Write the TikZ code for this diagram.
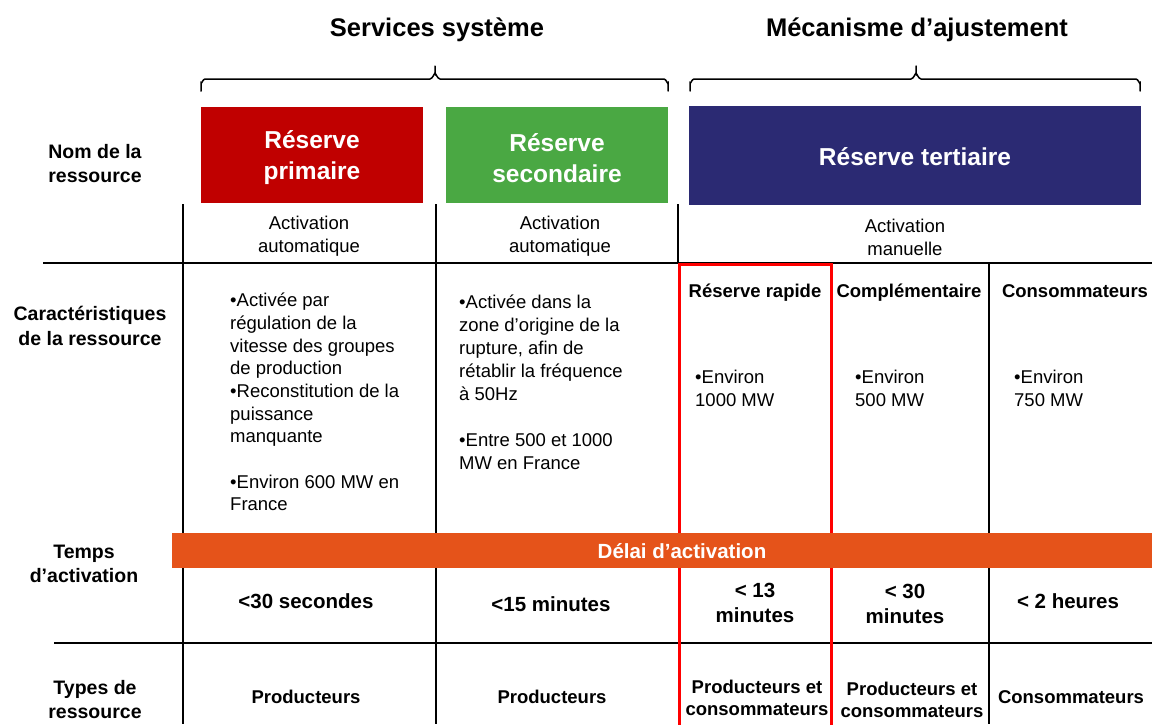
\documentclass[tikz,border=0pt]{standalone}
\usepackage{fontspec}
\setmainfont{Liberation Sans}
\definecolor{cred}{HTML}{C00000}
\definecolor{cgreen}{HTML}{4AA843}
\definecolor{cblue}{HTML}{2B2A73}
\definecolor{corange}{HTML}{E5531A}
\definecolor{cframe}{HTML}{FF0000}
\begin{document}
\begin{tikzpicture}[x=1pt,y=-1pt,
  every node/.style={inner sep=0pt},
  title/.style={font=\fontsize{25.5}{30}\selectfont\bfseries},
  lab/.style={font=\fontsize{19.5}{24.5}\selectfont\bfseries, align=center},
  colbox/.style={inner sep=0pt},
  boxtext/.style={text=white, font=\fontsize{24.5}{31}\selectfont\bfseries, align=center},
  body/.style={font=\fontsize{18.5}{22.65}\selectfont, align=left, anchor=north west},
  cell/.style={font=\fontsize{18.5}{23}\selectfont, align=center},
  bcell/.style={font=\fontsize{18.5}{22.5}\selectfont\bfseries, align=center},
  tcell/.style={font=\fontsize{20.5}{25.5}\selectfont\bfseries, align=center},
  rule/.style={line width=1.6pt, black},
  frame/.style={line width=3pt, cframe},
  brace/.style={line width=1.5pt, black, line cap=round}]
\useasboundingbox (0,0) rectangle (1152,724);

% titles
\node[title] (t1) at (437,29.5) {Services système};
\node[title] (t2) at (917,29.5) {Mécanisme d’ajustement};

% braces
\draw[brace] (201,91) -- (201,83) to[out=-90,in=180] (205,79) -- (430,79) to[out=0,in=90] (435,74) -- (435,66);
\draw[brace] (435,74) to[out=90,in=180] (440,79) -- (664,79) to[out=0,in=-90] (668,83) -- (668,91);
\draw[brace] (690,91) -- (690,83) to[out=-90,in=180] (694,79) -- (911,79) to[out=0,in=90] (916,74) -- (916,66);
\draw[brace] (916,74) to[out=90,in=180] (921,79) -- (1136,79) to[out=0,in=-90] (1140,83) -- (1140,91);

% coloured boxes
\node[colbox, fill=cred, minimum width=222pt, minimum height=96pt] (b1) at (312,155) {};
\node[colbox, fill=cgreen, minimum width=222pt, minimum height=96pt] (b2) at (557,155) {};
\node[colbox, fill=cblue, minimum width=452pt, minimum height=99pt] (b3) at (915,155.5) {};
\node[boxtext] (b1t) at (312,158) {Réserve\\primaire};
\node[boxtext] (b2t) at (557,158) {Réserve\\secondaire};
\node[boxtext] (b3t) at (915,157) {Réserve tertiaire};

% table rules
\coordinate (v1t) at (183,204); \coordinate (v1b) at (183,724);
\coordinate (v2t) at (436,204); \coordinate (v2b) at (436,724);
\coordinate (v3t) at (678,204); \coordinate (v3b) at (678,264);
\coordinate (v4t) at (989,264); \coordinate (v4b) at (989,724);
\coordinate (h1l) at (43,263);  \coordinate (h1r) at (1152,263);
\coordinate (h2l) at (54,643);  \coordinate (h2r) at (1152,643);
\draw[rule] (v1t) -- (v1b);
\draw[rule] (v2t) -- (v2b);
\draw[rule] (v3t) -- (v3b);
\draw[rule] (v4t) -- (v4b);
\draw[rule] (h1l) -- (h1r);
\draw[rule] (h2l) -- (h2r);
% red frame
\coordinate (fa) at (679,264.5); \coordinate (fb) at (831,264.5);
\coordinate (fc) at (831,730); \coordinate (fd) at (679,730);
\draw[frame] (fd) -- (fa) -- (fb) -- (fc);

% row labels
\node[lab] (n1) at (95,163.5) {Nom de la\\ressource};
\node[lab] (n2) at (90,326) {Caractéristiques\\de la ressource};
\node[lab] (n3) at (84,564) {Temps\\d’activation};
\node[lab] (n4) at (95,699.5) {Types de\\ressource};

% activation mode
\node[cell] (a1) at (309,236) {Activation\\automatique};
\node[cell] (a2) at (560,236) {Activation\\automatique};
\node[cell] (a3) at (905,237) {Activation\\manuelle};

% characteristics
\node[body] (c1) at (230,293) {•Activée par\\régulation de la\\vitesse des groupes\\de production\\•Reconstitution de la\\puissance\\manquante\\[22.65pt]•Environ 600 MW en\\France};
\node[body,font=\fontsize{18.5}{23}\selectfont] (c2) at (459,295) {•Activée dans la\\zone d’origine de la\\rupture, afin de\\rétablir la fréquence\\à 50Hz\\[23pt]•Entre 500 et 1000\\MW en France};

\node[bcell] (s1) at (755,293) {Réserve rapide};
\node[bcell] (s2) at (909,293) {Complémentaire};
\node[bcell] (s3) at (1075,291) {Consommateurs};

\node[body] (e1) at (695,370) {•Environ\\1000 MW};
\node[body] (e2) at (855,370) {•Environ\\500 MW};
\node[body] (e3) at (1014,370) {•Environ\\750 MW};

% activation band
\node[fill=corange, minimum width=980pt, minimum height=35pt] (band) at (662,550.5) {};
\node[text=white, font=\fontsize{20.5}{24}\selectfont\bfseries] (bandlab) at (682,551) {Délai d’activation};

% delays
\node[tcell] (d1) at (306,601) {<30 secondes};
\node[tcell] (d2) at (551,604) {<15 minutes};
\node[tcell] (d3) at (755,603) {< 13\\minutes};
\node[tcell] (d4) at (905,604) {< 30\\minutes};
\node[tcell] (d5) at (1068,601) {< 2 heures};

% resource types
\node[bcell] (p1) at (306,697) {Producteurs};
\node[bcell] (p2) at (552,697) {Producteurs};
\node[bcell] (p3) at (757,698) {Producteurs et\\consommateurs};
\node[bcell] (p4) at (912,700) {Producteurs et\\consommateurs};
\node[bcell] (p5) at (1071,697) {Consommateurs};
\end{tikzpicture}
\end{document}
